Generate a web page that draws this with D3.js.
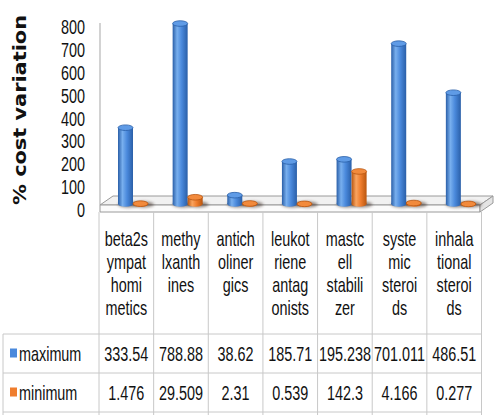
<!DOCTYPE html>
<html>
<head>
<meta charset="utf-8">
<script src="https://cdn.jsdelivr.net/npm/d3@7/dist/d3.min.js"></script>
<style>
  html, body { margin: 0; padding: 0; background: #fff; }
  svg { display: block; }
  .tbl { font-family: "Liberation Sans", Arial, sans-serif; font-size: 18px; fill: #111; }
</style>
</head>
<body>
<svg id="chart" width="494" height="415"></svg>
<script>
// ---- data ----
const categories = ["beta2sympathomimetics", "methylxanthines", "anticholinergics",
  "leukotriene antagonists", "mastcell stabilizer", "systemic steroids", "inhalational steroids"];
const categoryLabelLines = [
  ["beta2s", "ympat", "homi", "metics"],
  ["methy", "lxanth", "ines"],
  ["antich", "oliner", "gics"],
  ["leukot", "riene", "antag", "onists"],
  ["mastc", "ell", "stabili", "zer"],
  ["syste", "mic", "steroi", "ds"],
  ["inhala", "tional", "steroi", "ds"]
];
const maximumValues = [333.54, 788.88, 38.62, 185.71, 195.238, 701.011, 486.51];
const minimumValues = [1.476, 29.509, 2.31, 0.539, 142.3, 4.166, 0.277];
const seriesNames = ["maximum", "minimum"];
const yTicks = [0, 100, 200, 300, 400, 500, 600, 700, 800];
const yTitle = "% cost variation";

// ---- layout ----
const svg = d3.select("#chart");
const defs = svg.append("defs");
const SX = 0.8, SY = 1.08; // mimic the condensed, slightly tall face

function narrowText(parent, xPos, yPos, str, anchor) {
  return parent.append("text").attr("class", "tbl")
    .attr("transform", `translate(${xPos},${yPos}) scale(${SX},${SY})`)
    .attr("x", 0).attr("y", 0).attr("dy", "0.36em")
    .attr("text-anchor", anchor || "middle")
    .text(str);
}

const x = d3.scaleBand().domain(categories).range([99, 481.5]).padding(0);
const yLabel = d3.scaleLinear().domain([0, 800]).range([210, 27]);
const yBar = d3.scaleLinear().domain([0, 800]).range([204, 21]);

const seriesColors = [
  { light: "#78afee", mid: "#4a89dc", dark: "#2a5fa8", top: "#5f9be6", key: "#4a89dc" },
  { light: "#f9a460", mid: "#ef7d2d", dark: "#b9560f", top: "#f28a3c", key: "#ef7d2d" }
];
seriesColors.forEach((c, i) => {
  const g = defs.append("linearGradient").attr("id", "cyl" + i)
    .attr("x1", "0").attr("x2", "1").attr("y1", "0").attr("y2", "0");
  g.append("stop").attr("offset", "0").attr("stop-color", c.dark);
  g.append("stop").attr("offset", "0.3").attr("stop-color", c.light);
  g.append("stop").attr("offset", "0.6").attr("stop-color", c.mid);
  g.append("stop").attr("offset", "1").attr("stop-color", c.dark);
});
const blur = defs.append("filter").attr("id", "blur").attr("x", "-50%").attr("y", "-50%").attr("width", "200%").attr("height", "200%");
blur.append("feGaussianBlur").attr("stdDeviation", 1.6);

// ---- y title ----
svg.append("text")
  .attr("transform", "translate(26,110) rotate(-90)")
  .attr("text-anchor", "middle")
  .attr("textLength", 190).attr("lengthAdjust", "spacingAndGlyphs")
  .style("font-family", "'DejaVu Sans', Verdana, sans-serif")
  .style("font-weight", "bold").style("font-size", "18px").style("fill", "#111")
  .text(yTitle);

// ---- y tick labels ----
const tickG = svg.append("g");
yTicks.forEach(t => narrowText(tickG, 85, yLabel(t), t, "end"));

// axis line
svg.append("line").attr("x1", 100).attr("x2", 100).attr("y1", yLabel(800) - 4).attr("y2", 205)
  .attr("stroke", "#b5b5b5").attr("stroke-width", 1.2);

// ---- floor ----
const fx0 = x.range()[0] + 1, fx1 = x.range()[1] - 1.5, dx = 13, fyFront = 205, fyBack = 196, thick = 7;
svg.append("path")
  .attr("d", `M${fx0},${fyFront} L${fx0 + dx},${fyBack} L${fx1 + dx},${fyBack} L${fx1},${fyFront} Z`)
  .attr("fill", "#f1f1f1").attr("stroke", "#9a9a9a").attr("stroke-width", 1);
svg.append("path")
  .attr("d", `M${fx0},${fyFront} L${fx1},${fyFront} L${fx1},${fyFront + thick} L${fx0},${fyFront + thick} Z`)
  .attr("fill", "#fbfbfb").attr("stroke", "#9a9a9a").attr("stroke-width", 1);
svg.append("path")
  .attr("d", `M${fx1},${fyFront} L${fx1 + dx},${fyBack} L${fx1 + dx},${fyBack + thick} L${fx1},${fyFront + thick} Z`)
  .attr("fill", "#e4e4e4").attr("stroke", "#9a9a9a").attr("stroke-width", 1);

// ---- bars (cylinders) ----
const bw = 15;
const offsets = [0.485, 0.76];
const series = [maximumValues, minimumValues];
const barsG = svg.append("g");
series.forEach((vals, si) => {
  barsG.selectAll(".sh" + si).data(categories).join("ellipse")
    .attr("cx", c => x(c) + x.bandwidth() * offsets[si] + 3)
    .attr("cy", yBar(0) + 0.5)
    .attr("rx", bw / 2 + 3).attr("ry", 3)
    .attr("fill", "#3a2a22").attr("opacity", 0.55)
    .attr("filter", "url(#blur)");
});
series.forEach((vals, si) => {
  const c = seriesColors[si];
  const g = barsG.append("g");
  const data = categories.map((cat, i) => ({ cat, v: vals[i] }));
  const cx = d => x(d.cat) + x.bandwidth() * offsets[si];
  const ry = 2.8;
  g.selectAll(".bottom").data(data).join("ellipse")
    .attr("cx", cx).attr("cy", yBar(0)).attr("rx", bw / 2).attr("ry", ry)
    .attr("fill", `url(#cyl${si})`);
  g.selectAll(".body").data(data).join("rect")
    .attr("x", d => cx(d) - bw / 2).attr("width", bw)
    .attr("y", d => yBar(d.v)).attr("height", d => yBar(0) - yBar(d.v))
    .attr("fill", `url(#cyl${si})`);
  g.selectAll(".top").data(data).join("ellipse")
    .attr("cx", cx).attr("cy", d => yBar(d.v)).attr("rx", bw / 2).attr("ry", ry)
    .attr("fill", c.top).attr("stroke", c.dark).attr("stroke-width", 0.8);
});

// ---- data table ----
const tbl = svg.append("g");
const tTop = 212, rowTop = 334, rowH = 39, tLeft = 3;
const colEdges = categories.map(c => x(c)).concat([x.range()[1]]);
const lineColor = "#c8c8c8";
tbl.selectAll(".vl").data(colEdges).join("line")
  .attr("x1", d => d).attr("x2", d => d)
  .attr("y1", tTop).attr("y2", 415)
  .attr("stroke", lineColor).attr("stroke-width", 1);
tbl.append("line").attr("x1", tLeft).attr("x2", tLeft).attr("y1", rowTop).attr("y2", 415)
  .attr("stroke", lineColor);
[rowTop, rowTop + rowH, rowTop + 2 * rowH].forEach(yy => {
  tbl.append("line").attr("x1", tLeft).attr("x2", x.range()[1]).attr("y1", yy).attr("y2", yy)
    .attr("stroke", lineColor);
});
// header labels
const lineSpacing = 23, firstLine = 239;
categories.forEach((cat, i) => {
  categoryLabelLines[i].forEach((ln, j) => {
    narrowText(tbl, x(cat) + x.bandwidth() / 2, firstLine + j * lineSpacing, ln, "middle");
  });
});
// rows
series.forEach((vals, si) => {
  const cy = rowTop + rowH * si + rowH / 2;
  tbl.append("rect").attr("x", 10).attr("y", cy - 5).attr("width", 7).attr("height", 9)
    .attr("fill", seriesColors[si].key);
  narrowText(tbl, 19, cy, seriesNames[si], "start");
  categories.forEach((cat, i) => {
    narrowText(tbl, x(cat) + x.bandwidth() / 2, cy, String(vals[i]), "middle");
  });
});
</script>
</body>
</html>
